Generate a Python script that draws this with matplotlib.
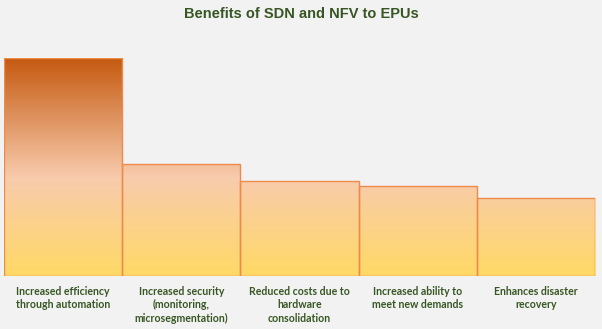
import matplotlib
matplotlib.use("Agg")
import matplotlib.pyplot as plt
import numpy as np
from matplotlib.colors import LinearSegmentedColormap

categories = [
    "Increased efficiency\nthrough automation",
    "Increased security\n(monitoring,\nmicrosegmentation)",
    "Reduced costs due to\nhardware\nconsolidation",
    "Increased ability to\nmeet new demands",
    "Enhances disaster\nrecovery",
]
values = [100, 51.4, 43.6, 41.3, 35.8]

title_color = "#375623"
bg = "#F2F2F2"

fig = plt.figure(figsize=(6.02, 3.29), dpi=100, facecolor=bg)
ax = fig.add_axes([4 / 602, 1 - 276 / 329, 591 / 602, 218 / 329])
ax.set_facecolor(bg)

x = np.arange(len(values))
bars = ax.bar(x, values, width=1.0, color="none", edgecolor="#ED8B4A",
              linewidth=1.0, zorder=3)

# gradient that runs over the whole plot height, clipped to each bar
cmap = LinearSegmentedColormap.from_list(
    "grad", [(0.0, "#FFD966"), (0.45, "#F8CBAD"), (1.0, "#C55A11")])
grad = np.linspace(0, 1, 256).reshape(-1, 1)
for b in bars:
    im = ax.imshow(grad, cmap=cmap, origin="lower", aspect="auto",
                   extent=[-0.5, len(values) - 0.5, 0, 100], zorder=2)
    im.set_clip_path(b)

ax.set_xlim(-0.5, len(values) - 0.5)
ax.set_ylim(0, 100)
ax.set_yticks([])
ax.set_xticks(x)
ax.set_xticklabels(categories, fontsize=7.6, fontweight="bold",
                   color=title_color, family="Lato", linespacing=1.3)
ax.tick_params(axis="x", length=0, pad=7)
for s in ax.spines.values():
    s.set_visible(False)

fig.text(0.5, 1 - 14 / 329, "Benefits of SDN and NFV to EPUs",
         ha="center", va="center", fontsize=10.5, fontweight="bold",
         color=title_color, family="Liberation Sans")

fig.savefig("out.png", dpi=100, facecolor=bg)
